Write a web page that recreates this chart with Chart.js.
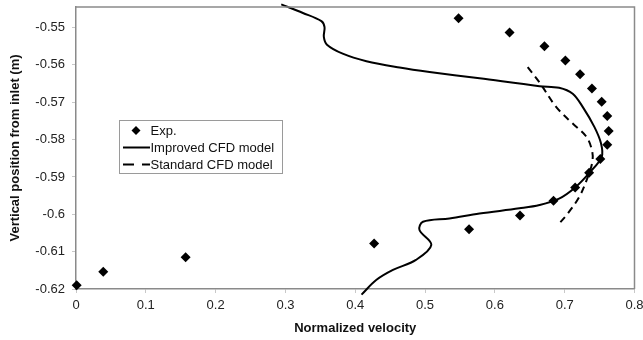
<!DOCTYPE html>
<html>
<head>
<meta charset="utf-8">
<script src="https://cdn.jsdelivr.net/npm/chart.js@4/dist/chart.umd.min.js"></script>
<style>
  html, body { margin: 0; padding: 0; background: #fff; }
  #wrap { width: 643px; height: 340px; position: relative; }
</style>
</head>
<body>
<div id="wrap"><canvas id="chart" width="643" height="340"></canvas></div>
<script>
const expVelocity = [0.001, 0.039, 0.157, 0.427, 0.563, 0.636, 0.684, 0.715, 0.735, 0.751,
                     0.761, 0.763, 0.761, 0.753, 0.739, 0.722, 0.701, 0.671, 0.621, 0.548]
const expPosition = [-0.619, -0.6154, -0.6115, -0.6078, -0.604, -0.6003, -0.5964, -0.5928, -0.5889, -0.5852,
                     -0.5814, -0.5777, -0.5737, -0.5699, -0.5663, -0.5625, -0.5588, -0.555, -0.5513, -0.5475]

const improvedVelocity = [0.294, 0.325, 0.3515, 0.356, 0.355, 0.3595, 0.382, 0.416, 0.4635, 0.5064,
                          0.578, 0.664, 0.692, 0.7115, 0.726, 0.7425, 0.752, 0.753, 0.7353, 0.715,
                          0.692, 0.664, 0.635, 0.578, 0.535, 0.497, 0.492, 0.509, 0.487, 0.454,
                          0.430, 0.409]
const improvedPosition = [-0.5438, -0.5461, -0.5483, -0.5499, -0.5525, -0.5546, -0.557, -0.559, -0.5607, -0.5619,
                          -0.5636, -0.5657, -0.5661, -0.5677, -0.5713, -0.5766, -0.581, -0.5846, -0.5889, -0.5928,
                          -0.5958, -0.5975, -0.5984, -0.5998, -0.6011, -0.602, -0.6042, -0.6082, -0.6122, -0.6149,
                          -0.6176, -0.6215]

const standardVelocity = [0.647, 0.664, 0.688, 0.7115, 0.7306, 0.739, 0.7396, 0.7325, 0.721, 0.7039, 0.689]
const standardPosition = [-0.5606, -0.5647, -0.5713, -0.5757, -0.5791, -0.5828, -0.586, -0.5903, -0.5953, -0.5999, -0.6031]

const xTicks = [0, 0.1, 0.2, 0.3, 0.4, 0.5, 0.6, 0.7, 0.8]
const yTicks = [-0.62, -0.61, -0.6, -0.59, -0.58, -0.57, -0.56, -0.55]

const seriesNames = ["Exp.", "Improved CFD model", "Standard CFD model"]

const toPoints = (xs, ys) => xs.map((x, i) => ({x: x, y: ys[i]}))
const fmt = v => String(Number(v.toFixed(2)))

const FONT = "'Liberation Sans', Arial, sans-serif"
const AXIS_GREY = "#8a8a8a"

// frame around the plot + legend box inside it
const framePlugin = {
    id: "frame",
    afterDraw(chart){
        const ctx = chart.ctx
        const a = chart.chartArea
        ctx.save()
        ctx.strokeStyle = AXIS_GREY
        ctx.lineWidth = 1.5
        ctx.beginPath()
        ctx.moveTo(a.left, a.top)
        ctx.lineTo(a.right, a.top)
        ctx.lineTo(a.right, a.bottom)
        ctx.stroke()

        // legend
        const bx = 119.5, by = 120.5, bw = 163, bh = 53
        ctx.fillStyle = "#fff"
        ctx.fillRect(bx, by, bw, bh)
        ctx.strokeStyle = "#9a9a9a"
        ctx.lineWidth = 1
        ctx.strokeRect(bx, by, bw, bh)

        ctx.font = `13px ${FONT}`
        ctx.textBaseline = "middle"
        ctx.fillStyle = "#111"
        const rows = [130.5, 147.5, 164.5]
        const textX = 150.5
        chart.data.datasets.forEach((ds, i) => {
            const y = rows[i]
            ctx.strokeStyle = "#000"
            ctx.fillStyle = "#000"
            if(i === 0){
                ctx.beginPath()
                ctx.moveTo(136, y - 4.5)
                ctx.lineTo(140.5, y)
                ctx.lineTo(136, y + 4.5)
                ctx.lineTo(131.5, y)
                ctx.closePath()
                ctx.fill()
            } else {
                ctx.lineWidth = 2
                ctx.setLineDash(i === 2 ? [11, 8] : [])
                ctx.beginPath()
                ctx.moveTo(123, y)
                ctx.lineTo(150, y)
                ctx.stroke()
                ctx.setLineDash([])
            }
            ctx.fillStyle = "#111"
            ctx.fillText(ds.label, textX, y + 0.5)
        })
        ctx.restore()
    }
}

const ctx = document.getElementById("chart")
new Chart(ctx, {
    type: "scatter",
    data: {
        datasets: [
            {
                label: seriesNames[0],
                data: toPoints(expVelocity, expPosition),
                pointStyle: "rectRot",
                pointRadius: 5,
                backgroundColor: "#000",
                borderColor: "#000",
                borderWidth: 0,
                showLine: false,
                clip: false
            },
            {
                label: seriesNames[1],
                data: toPoints(improvedVelocity, improvedPosition),
                showLine: true,
                pointRadius: 0,
                borderColor: "#000",
                borderWidth: 2,
                tension: 0.35,
                clip: false
            },
            {
                label: seriesNames[2],
                data: toPoints(standardVelocity, standardPosition),
                showLine: true,
                pointRadius: 0,
                borderColor: "#000",
                borderWidth: 2,
                borderDash: [7, 5],
                tension: 0.35,
                clip: false
            }
        ]
    },
    options: {
        responsive: false,
        animation: false,
        devicePixelRatio: 1,
        layout: { padding: { top: 7, right: 8.5, bottom: 0, left: 0 } },
        plugins: {
            legend: { display: false },
            tooltip: { enabled: false }
        },
        scales: {
            x: {
                type: "linear",
                min: 0,
                max: 0.8,
                afterBuildTicks: s => { s.ticks = xTicks.map(v => ({value: v})) },
                afterFit: s => { s.height = 51; s.paddingLeft = 0; s.paddingRight = 0 },
                border: { color: AXIS_GREY, width: 1.5 },
                grid: { drawOnChartArea: false, tickLength: 4, color: "#c8c8c8" },
                ticks: {
                    padding: 5,
                    color: "#222",
                    font: { family: FONT, size: 13 },
                    callback: v => fmt(v),
                    maxRotation: 0
                },
                title: {
                    display: true,
                    text: "Normalized velocity",
                    color: "#111",
                    font: { family: FONT, size: 13, weight: "bold" },
                    padding: { top: 0, bottom: 4 }
                }
            },
            y: {
                type: "linear",
                min: -0.62,
                max: -0.5445,
                afterBuildTicks: s => { s.ticks = yTicks.map(v => ({value: v})) },
                afterFit: s => { s.width = 76; s.paddingTop = 0; s.paddingBottom = 0 },
                border: { color: AXIS_GREY, width: 1.5 },
                grid: { drawOnChartArea: false, tickLength: 4, color: "#c8c8c8" },
                ticks: {
                    padding: 7,
                    color: "#222",
                    font: { family: FONT, size: 13 },
                    callback: v => fmt(v)
                },
                title: {
                    display: true,
                    text: "Vertical position from inlet (m)",
                    color: "#111",
                    font: { family: FONT, size: 13, weight: "bold" },
                    padding: { top: 8, bottom: 0 }
                }
            }
        }
    },
    plugins: [framePlugin]
})
</script>
</body>
</html>
